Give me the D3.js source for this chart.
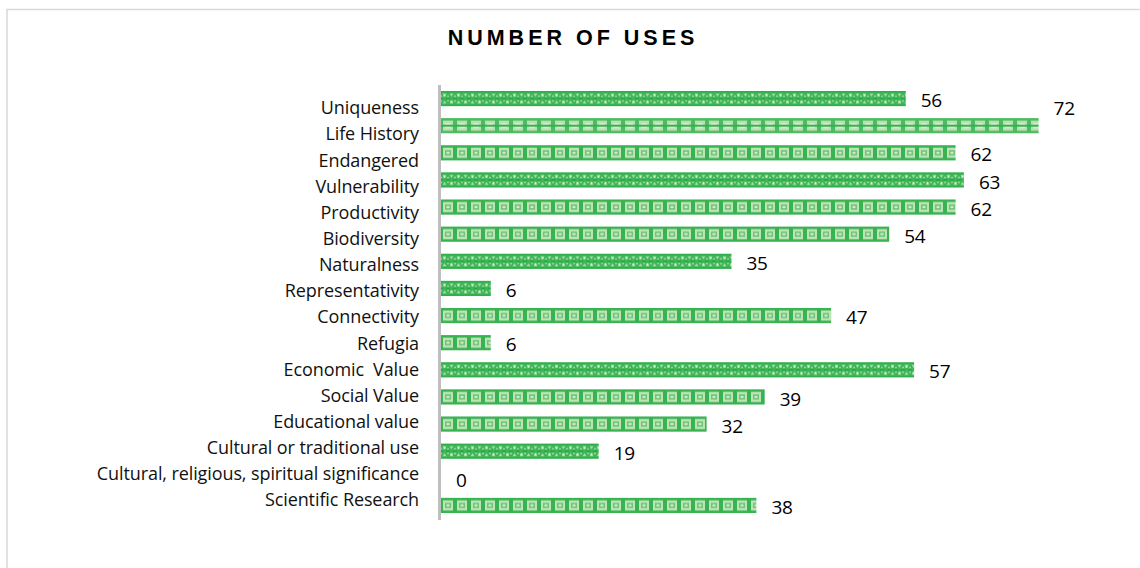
<!DOCTYPE html>
<html>
<head>
<meta charset="utf-8">
<script src="https://cdn.jsdelivr.net/npm/d3@7"></script>
<style>
  html, body { margin: 0; padding: 0; background: #fff; }
  svg { display: block; }
</style>
</head>
<body>
<svg id="chart" width="1140" height="568"></svg>
<script>
// ---- data ----
const title = "NUMBER OF USES";
const categories = [
  "Uniqueness", "Life History", "Endangered", "Vulnerability", "Productivity",
  "Biodiversity", "Naturalness", "Representativity", "Connectivity", "Refugia",
  "Economic  Value", "Social Value", "Educational value", "Cultural or traditional use",
  "Cultural, religious, spiritual significance", "Scientific Research"
];
const values = [56, 72, 62, 63, 62, 54, 35, 6, 47, 6, 57, 39, 32, 19, 0, 38];
const patternKinds = ["A", "B", "C", "A", "C", "C", "A", "A", "C", "C", "A", "C", "C", "A", "C", "C"];
// label nudges (style)
const labelNudge = { "Life History": -19 };

// ---- layout ----
const svg = d3.select("#chart");
const W = 1140, H = 568;

svg.append("rect")
  .attr("x", 7).attr("y", 9.5).attr("width", W).attr("height", H)
  .attr("fill", "#fff").attr("stroke", "#d9d9d9").attr("stroke-width", 1.5);

svg.append("text")
  .attr("x", 573).attr("y", 45)
  .attr("text-anchor", "middle")
  .attr("font-family", "Liberation Sans, Arial, sans-serif")
  .attr("font-weight", "bold")
  .attr("font-size", 21.5)
  .attr("letter-spacing", 4)
  .attr("fill", "#000")
  .text(title);

const x = d3.scaleLinear().domain([0, 80]).range([441, 1105]);
const y = d3.scaleBand().domain(categories).range([85, 519]).paddingInner(0.44).paddingOuter(0.22);
const yLab = d3.scalePoint().domain(categories).range([108, 500]);

// patterns
const defs = svg.append("defs");
const TW = 14;
categories.forEach((c, i) => {
  const kind = patternKinds[i];
  const h = y.bandwidth();
  const p = defs.append("pattern")
    .attr("id", "pat" + i)
    .attr("patternUnits", "userSpaceOnUse")
    .attr("x", x(0)).attr("y", y(c))
    .attr("width", TW).attr("height", h);
  if (kind === "A") {
    p.append("rect").attr("width", TW).attr("height", h).attr("fill", "#a9dba2");
    p.append("rect").attr("y", 0).attr("width", TW).attr("height", 2.5).attr("fill", "#2eb04c");
    p.append("rect").attr("y", h - 2.5).attr("width", TW).attr("height", 2.5).attr("fill", "#2eb04c");
    p.append("rect").attr("y", h / 2 - 1.5).attr("width", TW).attr("height", 3).attr("fill", "#25ab45");
    p.append("path").attr("d", `M0,2 L7,${h-2} M7,2 L0,${h-2} M7,2 L14,${h-2} M14,2 L7,${h-2}`)
      .attr("stroke", "#3db657").attr("stroke-width", 2).attr("fill", "none");
    p.append("rect").attr("x", 2.5).attr("y", 3.5).attr("width", 2).attr("height", 2).attr("fill", "#d6efcf");
    p.append("rect").attr("x", 9.5).attr("y", h - 5.5).attr("width", 2).attr("height", 2).attr("fill", "#d6efcf");
  } else if (kind === "B") {
    p.append("rect").attr("width", TW).attr("height", h).attr("fill", "#4dbb62");
    p.append("rect").attr("x", 2).attr("y", 2.5).attr("width", 10).attr("height", h - 5).attr("fill", "#b8e0b0");
    p.append("rect").attr("x", 4).attr("y", 5).attr("width", 6).attr("height", h - 10).attr("fill", "#d8eed1");
    p.append("rect").attr("x", 0).attr("y", h / 2 - 1).attr("width", TW).attr("height", 2).attr("fill", "#33b150");
  } else {
    p.append("rect").attr("width", TW).attr("height", h).attr("fill", "#38b352");
    p.append("rect").attr("x", 2).attr("y", 2.5).attr("width", 10).attr("height", h - 5).attr("fill", "#bfe3b6");
    p.append("rect").attr("x", 4).attr("y", 5).attr("width", 6).attr("height", h - 10).attr("fill", "#6cc576");
    p.append("rect").attr("x", 5.5).attr("y", 6.5).attr("width", 3).attr("height", h - 13).attr("fill", "#cdebc5");
  }
});

// bars
svg.append("g").selectAll("rect")
  .data(categories)
  .join("rect")
  .attr("x", x(0))
  .attr("y", d => y(d))
  .attr("width", (d, i) => x(values[i]) - x(0))
  .attr("height", y.bandwidth())
  .attr("fill", (d, i) => `url(#pat${i})`);

// axis line
const axis = svg.append("g").attr("transform", `translate(${x(0) - 1.5},0)`)
  .call(d3.axisLeft(y).tickSize(0).tickFormat(""));
axis.select(".domain").attr("stroke", "#bfbfbf").attr("stroke-width", 3)
  .attr("d", "M0,85V520");

// category labels
svg.append("g").selectAll("text")
  .data(categories)
  .join("text")
  .attr("x", 419)
  .attr("y", d => yLab(d))
  .attr("dy", "0.35em")
  .attr("text-anchor", "end")
  .attr("font-family", "'Open Sans', sans-serif")
  .attr("font-size", 18)
  .attr("letter-spacing", -0.1)
  .style("white-space", "pre")
  .attr("fill", "#111")
  .text(d => d);

// value labels
svg.append("g").selectAll("text")
  .data(categories)
  .join("text")
  .attr("x", (d, i) => x(values[i]) + 15)
  .attr("y", d => y(d) + y.bandwidth() / 2 + 2 + (labelNudge[d] || 0))
  .attr("dy", "0.35em")
  .attr("font-family", "'Open Sans', sans-serif")
  .attr("font-size", 19)
  .attr("letter-spacing", -0.3)
  .attr("fill", "#000")
  .text((d, i) => values[i]);
</script>
</body>
</html>
